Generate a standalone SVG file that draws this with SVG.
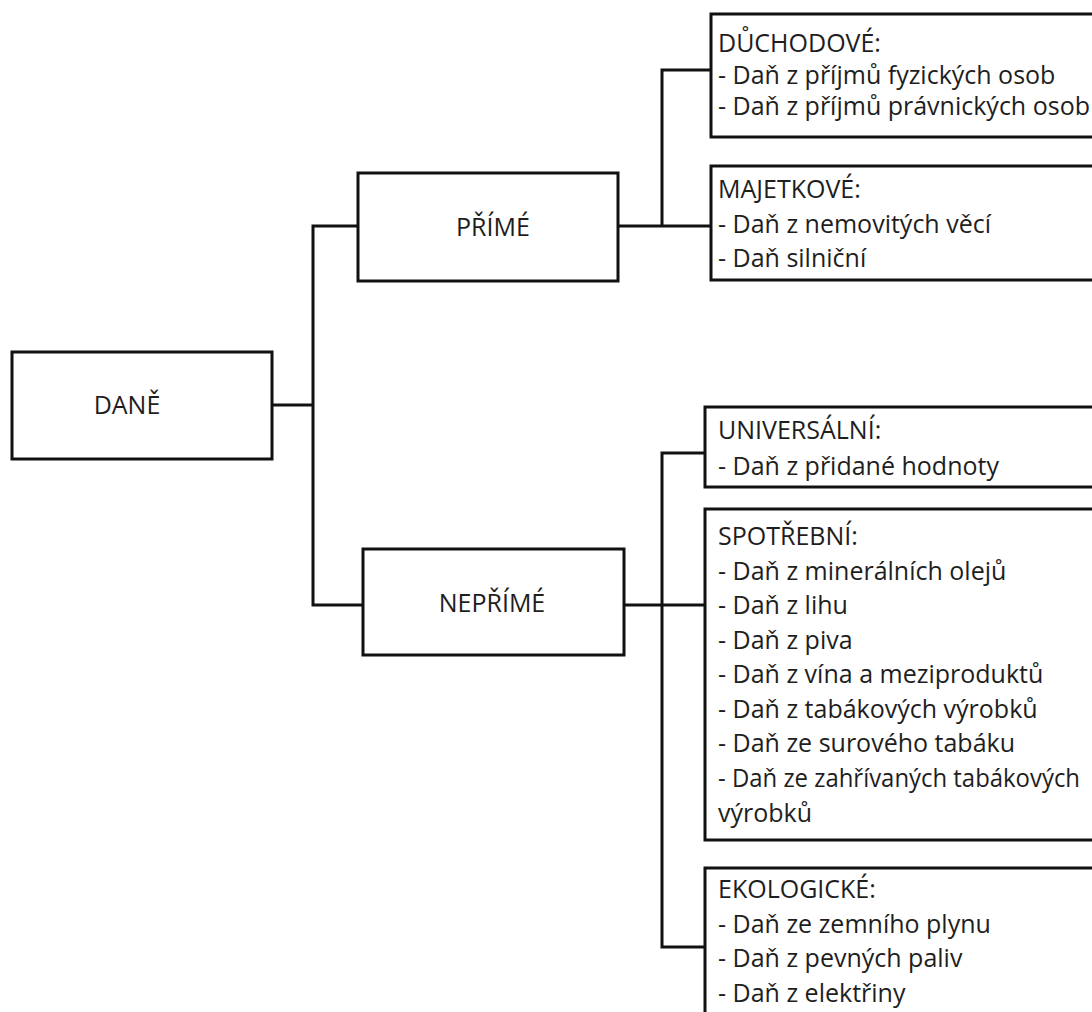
<svg xmlns="http://www.w3.org/2000/svg" width="1092" height="1012" viewBox="0 0 1092 1012">
<style>
.box{fill:#fff;stroke:#111;stroke-width:3}
.ln{fill:none;stroke:#111;stroke-width:3;stroke-linecap:square}
text{font-family:"Open Sans","Noto Sans","DejaVu Sans",sans-serif;font-size:25px;fill:#1e1e1e}
.c{text-anchor:middle}
</style>
<rect width="1092" height="1012" fill="#fff"/>
<g id="connectors">
<path class="ln" d="M272,405 H313 M313,226 V605 M313,226 H358 M313,605 H363"/>
<path class="ln" d="M618,226 H711 M662,70 V226 M662,70 H711"/>
<path class="ln" d="M624,605 H705 M662,453 V947 M662,453 H705 M662,947 H705"/>
</g>
<g id="dane">
<rect class="box" x="12" y="352" width="260" height="107"/>
<text class="c" x="127" y="414">DANĚ</text>
</g>
<g id="prime">
<rect class="box" x="358" y="173" width="260" height="108"/>
<text class="c" x="493" y="236">PŘÍMÉ</text>
</g>
<g id="neprime">
<rect class="box" x="363" y="549" width="261" height="106"/>
<text class="c" x="492" y="612">NEPŘÍMÉ</text>
</g>
<g id="duchodove">
<rect class="box" x="711" y="14" width="400" height="123"/>
<text x="718" y="52">DŮCHODOVÉ:</text>
<text x="718" y="84">- Daň z příjmů fyzických osob</text>
<text x="718" y="115">- Daň z příjmů právnických osob</text>
</g>
<g id="majetkove">
<rect class="box" x="711" y="166" width="400" height="114"/>
<text x="718" y="198">MAJETKOVÉ:</text>
<text x="718" y="233">- Daň z nemovitých věcí</text>
<text x="718" y="267">- Daň silniční</text>
</g>
<g id="universalni">
<rect class="box" x="705" y="407" width="400" height="80"/>
<text x="718" y="439">UNIVERSÁLNÍ:</text>
<text x="718" y="475">- Daň z přidané hodnoty</text>
</g>
<g id="spotrebni">
<rect class="box" x="705" y="509" width="400" height="331"/>
<text x="718" y="545">SPOTŘEBNÍ:</text>
<text x="718" y="580">- Daň z minerálních olejů</text>
<text x="718" y="614">- Daň z lihu</text>
<text x="718" y="649">- Daň z piva</text>
<text x="718" y="683">- Daň z vína a meziproduktů</text>
<text x="718" y="718">- Daň z tabákových výrobků</text>
<text x="718" y="752">- Daň ze surového tabáku</text>
<text x="718" y="787" textLength="362" lengthAdjust="spacingAndGlyphs">- Daň ze zahřívaných tabákových</text>
<text x="718" y="822">výrobků</text>
</g>
<g id="ekologicke">
<rect class="box" x="705" y="868" width="400" height="200"/>
<text x="718" y="898">EKOLOGICKÉ:</text>
<text x="718" y="933">- Daň ze zemního plynu</text>
<text x="718" y="967">- Daň z pevných paliv</text>
<text x="718" y="1002">- Daň z elektřiny</text>
</g>
</svg>
